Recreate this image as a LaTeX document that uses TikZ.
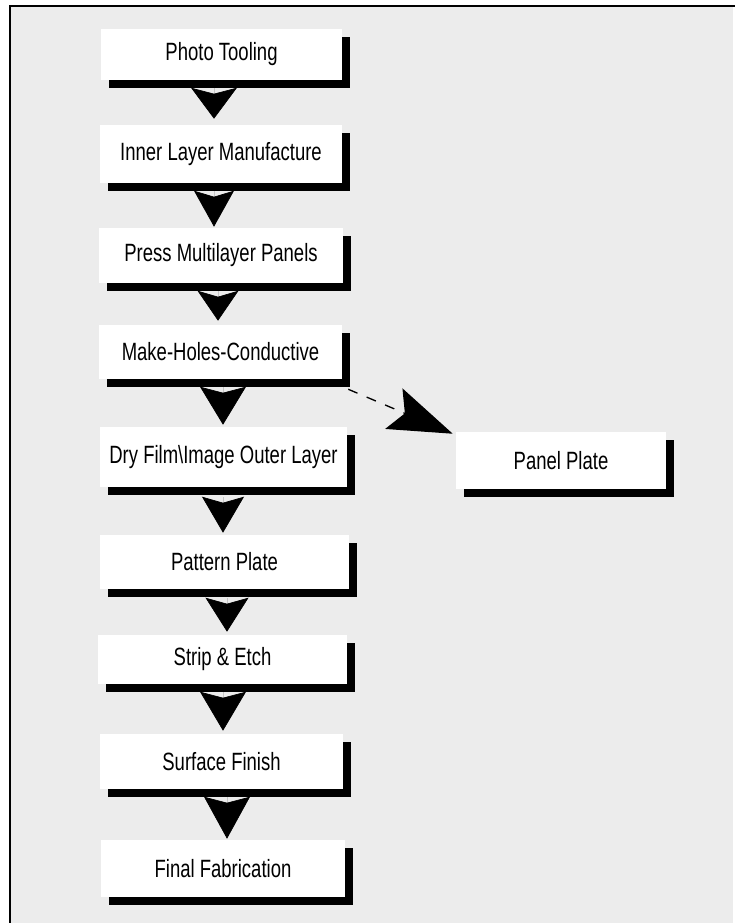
\documentclass[tikz,border=0pt]{standalone}
\usepackage{fontspec}
\newfontfamily\labelfont{Liberation Sans}[FakeStretch=0.74]
\usetikzlibrary{arrows.meta,shadows,calc}
\definecolor{panelgray}{HTML}{ECECEC}

\begin{document}
\begin{tikzpicture}[x=0.75pt,y=-0.75pt,
  stepbox/.style={rectangle, fill=white, inner sep=0pt,
    font=\labelfont\fontsize{18.75pt}{20pt}\selectfont, text=black,
    general shadow={fill=black, shadow xshift=6pt, shadow yshift=-6pt}},
  boxsize/.style 2 args={minimum width=#1*0.75pt, minimum height=#2*0.75pt},
  flow/.style 2 args={draw=gray!45, line width=0.5pt,
    -{Stealth[length=#1, width=#2, inset=4.5pt, color=black]}},
  branch/.style={draw=black, line width=1pt, dash pattern=on 7.5pt off 7.5pt,
    -{Stealth[length=48pt, width=33pt, inset=9pt, color=black]}}]

\useasboundingbox (0,0) rectangle (735,923);

% frame
\fill[panelgray] (10,6) rectangle (733,930);
\draw[line width=1.2pt] (10,930) -- (10,6) -- (735,6);

% process steps
\node[stepbox, boxsize={241}{51}] (photo)   at (221.5,54.5)  {Photo Tooling};
\node[stepbox, boxsize={242}{58}] (inner)   at (221,154)     {Inner Layer Manufacture};
\node[stepbox, boxsize={244}{55}] (press)   at (221,255.5)   {Press Multilayer Panels};
\node[stepbox, boxsize={243}{54}] (holes)   at (220.5,352)   {Make-Holes-Conductive};
\node[stepbox, boxsize={247}{60}] (dryfilm) at (223.5,457)   {Dry Film\textbackslash Image Outer Layer};
\node[stepbox, boxsize={249}{54}] (pattern) at (224.5,562)   {Pattern Plate};
\node[stepbox, boxsize={249}{49}] (strip)   at (222.5,659.5) {Strip \& Etch};
\node[stepbox, boxsize={243}{55}] (surface) at (221.5,761.5) {Surface Finish};
\node[stepbox, boxsize={244}{57}] (final)   at (223,868.5)   {Final Fabrication};
\node[stepbox, boxsize={210}{57}] (panel)   at (561,460.5)   {Panel Plate};

% main flow
\draw[flow={23.25pt}{34.5pt}] ($(photo.south)+(-7.5,8)$)  -- ($(inner.north)+(-7,-6)$);
\draw[flow={27pt}{30pt}]      ($(inner.south)+(-7,8)$)    -- ($(press.north)+(-7,-1)$);
\draw[flow={22.5pt}{30.75pt}] ($(press.south)+(-3,8)$)    -- ($(holes.north)+(-2.5,-4)$);
\draw[flow={28.5pt}{34.5pt}]  ($(holes.south)+(2.5,8)$)   -- ($(dryfilm.north)+(-0.5,-2)$);
\draw[flow={27pt}{31.5pt}]    ($(dryfilm.south)+(-0.5,10)$) -- ($(pattern.north)+(-1.5,-2)$);
\draw[flow={25.5pt}{32.25pt}] ($(pattern.south)+(2.5,9)$) -- ($(strip.north)+(4.5,-3)$);
\draw[flow={29.25pt}{34.5pt}] ($(strip.south)+(0.5,8)$)   -- ($(surface.north)+(1.5,-3)$);
\draw[flow={31.5pt}{34.5pt}]  ($(surface.south)+(5.5,8)$) -- ($(final.north)+(4,-1)$);

% alternative route
\draw[branch] ($(holes.south east)+(6,10)$) -- ($(panel.north west)+(-3,2)$);

\end{tikzpicture}
\end{document}
